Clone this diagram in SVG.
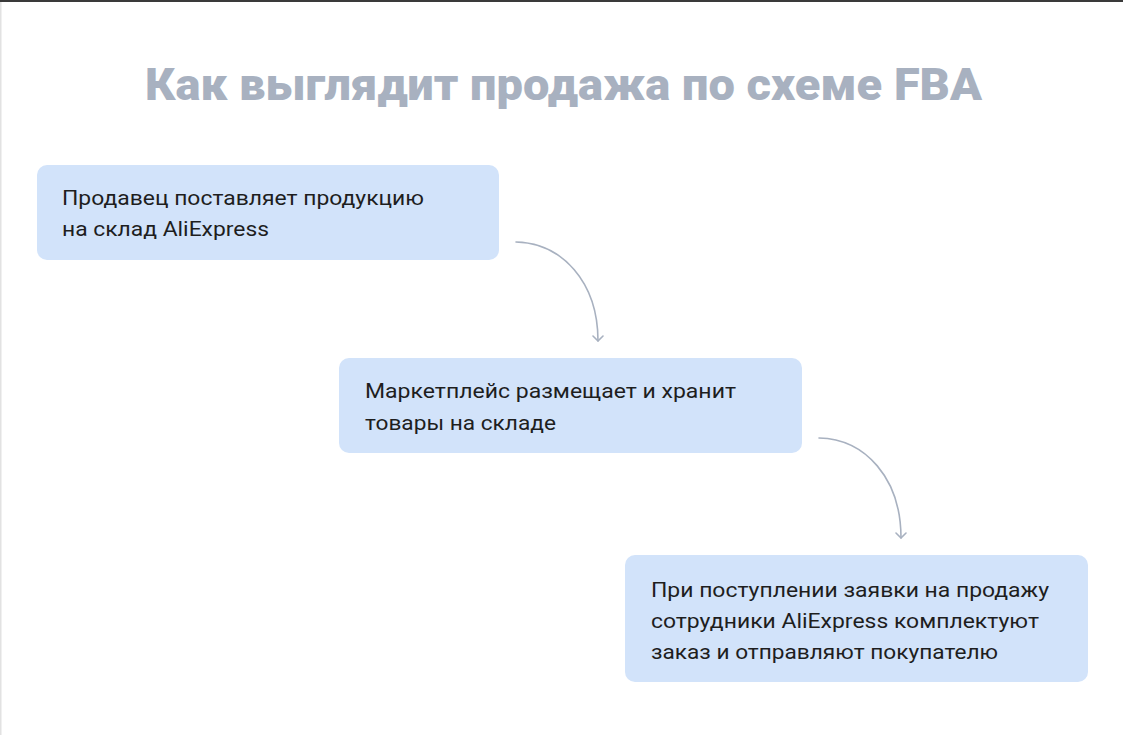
<svg xmlns="http://www.w3.org/2000/svg" width="1123" height="735" viewBox="0 0 1123 735">
<defs>
<style>
.box{fill:#d2e3fa}
.t{font-family:Roboto,"Liberation Sans",sans-serif;font-size:21px;fill:#1e1e1e}
.title{font-family:Roboto,"Liberation Sans",sans-serif;font-size:45px;font-weight:900;fill:#a8b1c0}
.conn{fill:none;stroke:#a8b1c0;stroke-width:1.6;stroke-linecap:round;stroke-linejoin:round}
</style>
<marker id="ah" viewBox="0 0 12 12" refX="6" refY="6" markerWidth="12" markerHeight="12" markerUnits="userSpaceOnUse" orient="auto">
<path d="M1 1 L6 6 L1 11" fill="none" stroke="#a8b1c0" stroke-width="1.6" stroke-linecap="round" stroke-linejoin="round"/>
</marker>
</defs>
<rect x="0" y="0" width="1123" height="735" fill="#ffffff"/>
<rect x="0" y="0" width="1123" height="2" fill="#3a3a3a"/>
<rect x="0" y="2" width="1.5" height="733" fill="#e2e2e2"/>
<g id="title">
<text class="title" x="145" y="100" textLength="837" lengthAdjust="spacingAndGlyphs">Как выглядит продажа по схеме FBA</text>
</g>
<g id="connectors">
<path class="conn" d="M516 242 C562 243 598 282 598 341" marker-end="url(#ah)"/>
<path class="conn" d="M819 438 C865 439 901 478 901 538" marker-end="url(#ah)"/>
</g>
<g id="node1">
<rect class="box" x="37" y="165" width="462" height="95" rx="10"/>
<text class="t" x="62" y="205" textLength="362" lengthAdjust="spacingAndGlyphs">Продавец поставляет продукцию</text>
<text class="t" x="62" y="236" textLength="207" lengthAdjust="spacingAndGlyphs">на склад AliExpress</text>
</g>
<g id="node2">
<rect class="box" x="339" y="358" width="463" height="95" rx="10"/>
<text class="t" x="365" y="398" textLength="371" lengthAdjust="spacingAndGlyphs">Маркетплейс размещает и хранит</text>
<text class="t" x="365" y="430" textLength="191" lengthAdjust="spacingAndGlyphs">товары на складе</text>
</g>
<g id="node3">
<rect class="box" x="625" y="555" width="463" height="127" rx="10"/>
<text class="t" x="651" y="597" textLength="398" lengthAdjust="spacingAndGlyphs">При поступлении заявки на продажу</text>
<text class="t" x="651" y="628" textLength="388" lengthAdjust="spacingAndGlyphs">сотрудники AliExpress комплектуют</text>
<text class="t" x="651" y="659" textLength="347" lengthAdjust="spacingAndGlyphs">заказ и отправляют покупателю</text>
</g>
</svg>
